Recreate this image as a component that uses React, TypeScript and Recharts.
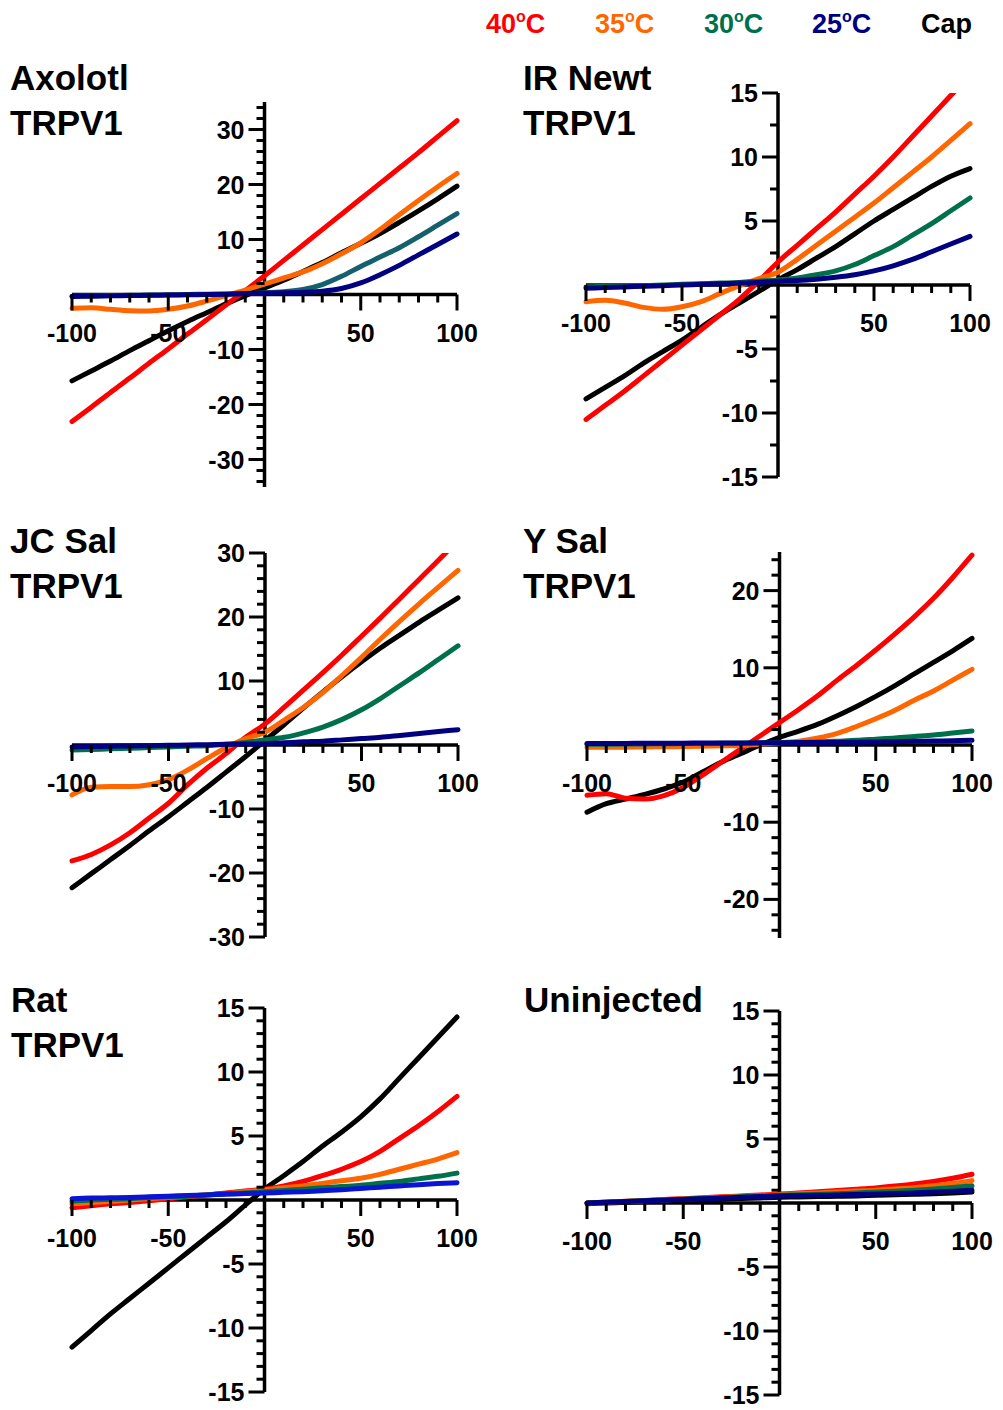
import { LineChart, Line, XAxis, YAxis, ReferenceLine } from 'recharts';

// membrane potential (mV), shared by every panel
const VOLTAGE = [-100, -90, -80, -70, -60, -50, -40, -30, -20, -10, 0, 10, 20, 30, 40, 50, 60, 70, 80, 90, 100];
const X_TICKS = [-100, -90, -80, -70, -60, -50, -40, -30, -20, -10, 10, 20, 30, 40, 50, 60, 70, 80, 90, 100];
const X_LABELS = [-100, -50, 50, 100];

// current (µA)
const AXOLOTL_40 = [-23.1, -20.5, -17.8, -15.2, -12.5, -9.9, -7.2, -4.6, -1.9, 0.7, 3.4, 6.2, 9.0, 11.8, 14.6, 17.4, 20.2, 23.0, 25.8, 28.7, 31.6];
const AXOLOTL_35 = [-2.5, -2.4, -2.7, -2.95, -3.0, -2.7, -2.1, -1.2, -0.2, 0.8, 1.9, 3.0, 4.1, 5.6, 7.4, 9.4, 11.8, 14.5, 17.1, 19.6, 22.0];
const AXOLOTL_30 = [-0.3, -0.25, -0.2, -0.15, -0.1, -0.05, 0.0, 0.05, 0.1, 0.2, 0.3, 0.5, 0.9, 1.8, 3.3, 5.1, 6.8, 8.5, 10.5, 12.6, 14.7];
const AXOLOTL_25 = [-0.35, -0.3, -0.25, -0.2, -0.15, -0.1, -0.05, 0.0, 0.05, 0.15, 0.25, 0.3, 0.4, 0.6, 1.1, 2.1, 3.6, 5.3, 7.2, 9.1, 11.0];
const AXOLOTL_CAP = [-15.7, -13.9, -12.1, -10.2, -8.4, -6.6, -4.9, -3.3, -1.7, -0.2, 1.2, 2.6, 4.2, 5.8, 7.6, 9.3, 11.1, 13.1, 15.2, 17.4, 19.7];

const IRNEWT_40 = [-10.5, -9.4, -8.3, -7.1, -5.9, -4.7, -3.5, -2.3, -1.1, 0.3, 1.8, 3.1, 4.4, 5.7, 7.1, 8.5, 10.0, 11.6, 13.2, 14.8, 16.4];
const IRNEWT_35 = [-1.3, -1.2, -1.4, -1.75, -1.9, -1.7, -1.3, -0.65, -0.05, 0.5, 1.0, 2.0, 3.1, 4.2, 5.3, 6.4, 7.6, 8.8, 10.0, 11.3, 12.6];
const IRNEWT_30 = [-0.15, -0.1, -0.08, -0.05, 0.0, 0.05, 0.1, 0.15, 0.2, 0.3, 0.4, 0.55, 0.8, 1.1, 1.6, 2.3, 3.0, 3.9, 4.8, 5.8, 6.8];
const IRNEWT_25 = [-0.25, -0.2, -0.15, -0.1, -0.05, 0.0, 0.05, 0.1, 0.15, 0.2, 0.3, 0.35, 0.45, 0.6, 0.8, 1.1, 1.5, 2.0, 2.6, 3.2, 3.8];
const IRNEWT_CAP = [-8.9, -8.0, -7.1, -6.1, -5.2, -4.3, -3.3, -2.3, -1.4, -0.5, 0.4, 1.2, 2.1, 3.0, 4.0, 5.0, 5.9, 6.8, 7.7, 8.5, 9.1];

const JCSAL_40 = [-18.1, -17.1, -15.6, -13.7, -11.4, -9.1, -6.2, -3.6, -1.3, 1.2, 3.3, 5.9, 8.6, 11.3, 14.1, 17.0, 19.9, 22.9, 25.9, 28.9, 32.0];
const JCSAL_35 = [-7.8, -6.6, -6.5, -6.5, -6.2, -5.4, -3.9, -2.1, -0.4, 1.0, 2.0, 3.9, 5.9, 8.2, 10.9, 13.7, 16.6, 19.4, 22.1, 24.7, 27.3];
const JCSAL_30 = [-0.8, -0.7, -0.6, -0.5, -0.4, -0.3, -0.2, -0.1, 0.1, 0.4, 0.8, 1.2, 1.9, 2.8, 4.0, 5.5, 7.3, 9.3, 11.3, 13.4, 15.5];
const JCSAL_25 = [-0.3, -0.25, -0.2, -0.15, -0.1, -0.05, 0.0, 0.05, 0.1, 0.15, 0.2, 0.35, 0.5, 0.6, 0.8, 1.0, 1.2, 1.5, 1.8, 2.1, 2.4];
const JCSAL_CAP = [-22.3, -20.1, -17.9, -15.7, -13.4, -11.2, -8.9, -6.6, -4.2, -1.8, 0.7, 3.2, 5.8, 8.3, 10.7, 13.0, 15.2, 17.2, 19.2, 21.1, 23.0];

const YSAL_40 = [-6.5, -6.3, -6.9, -7.0, -6.55, -5.5, -3.9, -2.2, -0.5, 1.2, 2.9, 4.6, 6.4, 8.4, 10.3, 12.3, 14.4, 16.6, 19.0, 21.7, 24.6];
const YSAL_35 = [-0.3, -0.3, -0.28, -0.25, -0.22, -0.2, -0.15, -0.1, -0.05, 0.1, 0.3, 0.5, 0.9, 1.5, 2.4, 3.4, 4.5, 5.8, 7.0, 8.4, 9.8];
const YSAL_30 = [0.1, 0.1, 0.12, 0.14, 0.16, 0.18, 0.2, 0.22, 0.24, 0.27, 0.3, 0.33, 0.4, 0.5, 0.6, 0.75, 0.9, 1.1, 1.3, 1.55, 1.8];
const YSAL_25 = [0.2, 0.2, 0.21, 0.22, 0.23, 0.24, 0.25, 0.26, 0.27, 0.28, 0.3, 0.31, 0.32, 0.34, 0.36, 0.4, 0.43, 0.47, 0.51, 0.55, 0.6];
const YSAL_CAP = [-8.7, -7.6, -7.0, -6.4, -5.7, -4.8, -3.5, -2.2, -1.1, 0.0, 1.0, 1.8, 2.7, 3.8, 5.0, 6.3, 7.7, 9.2, 10.7, 12.2, 13.8];

const RAT_40 = [-0.6, -0.45, -0.3, -0.2, -0.05, 0.1, 0.25, 0.4, 0.55, 0.7, 0.85, 1.1, 1.45, 1.9, 2.4, 3.0, 3.8, 4.8, 5.8, 6.9, 8.1];
const RAT_35 = [-0.3, -0.2, -0.1, 0.0, 0.1, 0.2, 0.3, 0.4, 0.5, 0.65, 0.78, 0.95, 1.1, 1.3, 1.5, 1.7, 2.0, 2.4, 2.8, 3.2, 3.7];
const RAT_30 = [-0.1, 0.0, 0.05, 0.1, 0.2, 0.25, 0.3, 0.4, 0.5, 0.55, 0.65, 0.75, 0.85, 0.95, 1.05, 1.15, 1.3, 1.45, 1.65, 1.85, 2.1];
const RAT_25 = [0.1, 0.15, 0.17, 0.2, 0.25, 0.3, 0.35, 0.4, 0.45, 0.5, 0.55, 0.6, 0.65, 0.72, 0.8, 0.9, 1.0, 1.1, 1.2, 1.28, 1.35];
const RAT_CAP = [-11.5, -10.2, -8.9, -7.7, -6.5, -5.3, -4.1, -2.9, -1.7, -0.4, 0.85, 1.9, 3.0, 4.2, 5.3, 6.5, 7.9, 9.5, 11.1, 12.7, 14.3];

const UNINJ_40 = [0.0, 0.06, 0.13, 0.2, 0.27, 0.34, 0.41, 0.48, 0.55, 0.62, 0.7, 0.78, 0.87, 0.97, 1.07, 1.18, 1.32, 1.48, 1.68, 1.93, 2.25];
const UNINJ_35 = [0.0, 0.06, 0.12, 0.18, 0.25, 0.31, 0.38, 0.45, 0.51, 0.58, 0.65, 0.72, 0.79, 0.86, 0.93, 1.0, 1.1, 1.2, 1.35, 1.53, 1.75];
const UNINJ_30 = [0.0, 0.06, 0.12, 0.18, 0.24, 0.3, 0.36, 0.42, 0.48, 0.54, 0.6, 0.64, 0.68, 0.73, 0.79, 0.85, 0.92, 1.0, 1.1, 1.22, 1.35];
const UNINJ_25 = [0.0, 0.06, 0.11, 0.17, 0.22, 0.28, 0.33, 0.39, 0.44, 0.5, 0.55, 0.57, 0.6, 0.62, 0.66, 0.7, 0.74, 0.79, 0.85, 0.92, 1.0];
const UNINJ_CAP = [-0.05, 0.0, 0.05, 0.1, 0.15, 0.2, 0.25, 0.3, 0.35, 0.4, 0.45, 0.47, 0.5, 0.52, 0.55, 0.6, 0.64, 0.68, 0.73, 0.79, 0.85];

const FONT = '"Liberation Sans", Arial, Helvetica, sans-serif';
const M = 60; // chart margin around the plot box

// legend order; draw order below puts Cap at the bottom and 25°C on top
const SERIES = [
  { key: 't40', label: '40', color: '#ff0000' },
  { key: 't35', label: '35', color: '#ff6600' },
  { key: 't30', label: '30', color: '#00704a' },
  { key: 't25', label: '25', color: '#000080' },
  { key: 'cap', label: 'Cap', color: '#000000' },
];
const DRAW_ORDER = ['cap', 't40', 't35', 't30', 't25'];

const PANELS = [
  { title: ['Axolotl', 'TRPV1'], tx: 10, ty: 90, left: 72, top: 102, w: 385, h: 385, yMax: 35, yStep: 2, yLabel: 10,
    series: { t40: AXOLOTL_40, t35: AXOLOTL_35, t30: AXOLOTL_30, t25: AXOLOTL_25, cap: AXOLOTL_CAP }, colors: { t30: '#14606c' } },
  { title: ['IR Newt', 'TRPV1'], tx: 523, ty: 90, left: 586, top: 93, w: 384, h: 384, yMax: 15, yStep: 2.5, yLabel: 5, overflow: true,
    series: { t40: IRNEWT_40, t35: IRNEWT_35, t30: IRNEWT_30, t25: IRNEWT_25, cap: IRNEWT_CAP } },
  { title: ['JC Sal', 'TRPV1'], tx: 10, ty: 553, left: 72, top: 553, w: 386, h: 384, yMax: 30, yStep: 2, yLabel: 10, overflow: true,
    series: { t40: JCSAL_40, t35: JCSAL_35, t30: JCSAL_30, t25: JCSAL_25, cap: JCSAL_CAP } },
  { title: ['Y Sal', 'TRPV1'], tx: 523, ty: 553, left: 587, top: 552, w: 385, h: 386, yMax: 25, yStep: 2, yLabel: 10,
    series: { t40: YSAL_40, t35: YSAL_35, t30: YSAL_30, t25: YSAL_25, cap: YSAL_CAP } },
  { title: ['Rat', 'TRPV1'], tx: 11, ty: 1012, left: 72, top: 1008, w: 385, h: 384, yMax: 15, yStep: 1, yLabel: 5,
    series: { t40: RAT_40, t35: RAT_35, t30: RAT_30, t25: RAT_25, cap: RAT_CAP }, colors: { t25: '#0a14d2' } },
  { title: ['Uninjected'], tx: 524, ty: 1012, left: 587, top: 1011, w: 385, h: 384, yMax: 15, yStep: 1, yLabel: 5,
    series: { t40: UNINJ_40, t35: UNINJ_35, t30: UNINJ_30, t25: UNINJ_25, cap: UNINJ_CAP } },
];

const yTicks = (yMax: number, step: number) => {
  const n = Math.floor(yMax / step + 1e-9);
  const out: number[] = [];
  for (let i = -n; i <= n; i++) if (i !== 0) out.push(i * step);
  return out;
};

const Panel = ({ p }: { p: any }) => {
  const data = VOLTAGE.map((v, i) => {
    const row: any = { v };
    SERIES.forEach((s) => { row[s.key] = p.series[s.key][i]; });
    return row;
  });
  const zeroY = M + p.h / 2;
  const zeroX = M + p.w / 2;
  const colorOf = (k: string) => (p.colors && p.colors[k]) || SERIES.find((s) => s.key === k)!.color;

  const xTick = (props: any) => {
    const { x, payload } = props;
    const major = payload.value % 50 === 0;
    return (
      <g>
        <line x1={x} x2={x} y1={zeroY} y2={zeroY + (major ? 16 : 8)} stroke="#000" strokeWidth={3} />
        {X_LABELS.includes(payload.value) && (
          <text x={x} y={zeroY + 47} textAnchor="middle" fontFamily={FONT} fontWeight="bold" fontSize={25} fill="#000">
            {payload.value}
          </text>
        )}
      </g>
    );
  };

  const yTick = (props: any) => {
    const { y, payload } = props;
    const major = Math.abs(payload.value % p.yLabel) < 1e-9;
    return (
      <g>
        <line x1={zeroX} x2={zeroX - (major ? 16 : 8)} y1={y} y2={y} stroke="#000" strokeWidth={3} />
        {major && (
          <text x={zeroX - 20} y={y + 9} textAnchor="end" fontFamily={FONT} fontWeight="bold" fontSize={25} fill="#000">
            {payload.value}
          </text>
        )}
      </g>
    );
  };

  return (
    <div style={{ position: 'absolute', left: p.left - M, top: p.top - M }}>
      <LineChart width={p.w + 2 * M} height={p.h + 2 * M} data={data} margin={{ top: M, right: M, bottom: M - 1, left: M - 1 }}>
        <XAxis dataKey="v" type="number" domain={[-100, 100]} ticks={X_TICKS} interval={0} height={1}
          axisLine={false} tickLine={false} tick={xTick} />
        <YAxis type="number" domain={[-p.yMax, p.yMax]} ticks={yTicks(p.yMax, p.yStep)} interval={0} width={1}
          allowDataOverflow={!!p.overflow} axisLine={false} tickLine={false} tick={yTick} />
        <ReferenceLine y={0} stroke="#000" strokeWidth={3.5} />
        <ReferenceLine x={0} stroke="#000" strokeWidth={3.5} />
        {DRAW_ORDER.map((k) => (
          <Line key={k} dataKey={k} type="monotone" stroke={colorOf(k)} strokeWidth={5} strokeLinecap="round"
            dot={false} activeDot={false} isAnimationActive={false} />
        ))}
      </LineChart>
    </div>
  );
};

const LEGEND_X = [486, 595, 704, 812, 921];

export default function App() {
  return (
    <div style={{ position: 'absolute', left: 0, top: 0, width: 1003, height: 1410, background: '#fff', overflow: 'hidden' }}>
      {PANELS.map((p, i) => <Panel key={i} p={p} />)}
      <svg width={1003} height={1410} style={{ position: 'absolute', left: 0, top: 0, pointerEvents: 'none' }}>
        {SERIES.map((s, i) => (
          <text key={s.key} x={LEGEND_X[i]} y={33} fontFamily={FONT} fontWeight="bold" fontSize={27} fill={s.color}>
            {s.key === 'cap' ? s.label : (
              <>
                {s.label}
                <tspan fontSize={16} dy={-11}>o</tspan>
                <tspan dy={11}>C</tspan>
              </>
            )}
          </text>
        ))}
        {PANELS.map((p, i) => (
          <text key={i} x={p.tx} y={p.ty} fontFamily={FONT} fontWeight="bold" fontSize={35} fill="#000">
            {p.title.map((t: string, j: number) => (
              <tspan key={j} x={p.tx} dy={j === 0 ? 0 : 45}>{t}</tspan>
            ))}
          </text>
        ))}
      </svg>
    </div>
  );
}
